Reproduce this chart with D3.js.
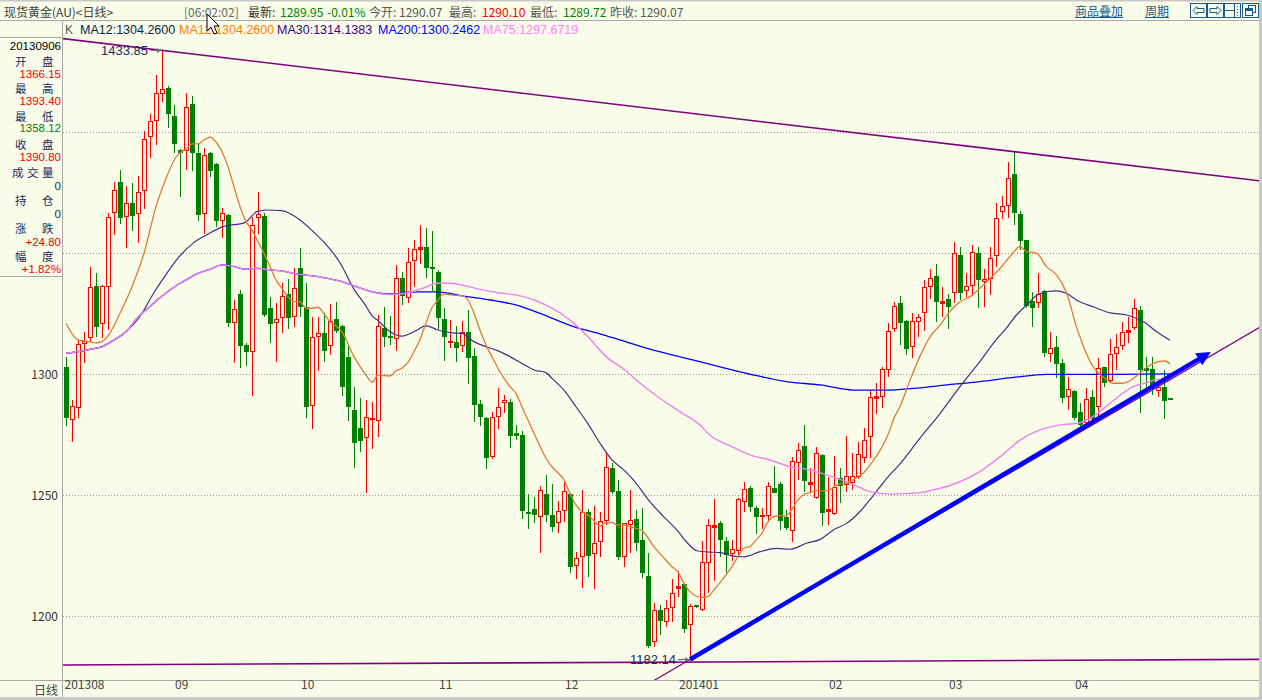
<!DOCTYPE html>
<html><head><meta charset="utf-8">
<script src="https://cdn.jsdelivr.net/npm/d3@7/dist/d3.min.js"></script>
<style>
html,body{margin:0;padding:0;background:#F9FCE8;}
svg{display:block;font-family:"Noto Sans CJK SC","Liberation Sans",sans-serif;}
</style></head>
<body><svg id="c" width="1262" height="700"></svg>
<script>
// ---------- DATA (daily candles, index 0 = first day shown, Aug 2013) ----------
const opens = [1302.9,1281.0,1286.0,1312.4,1314.9,1336.5,1320.7,1336.2,1366.5,1379.5,
1364.9,1370.7,1366.1,1375.9,1398.2,1404.5,1415.7,1418.2,1406.7,1392.7,
1392.3,1411.6,1391.3,1366.15,1391.3,1386.9,1363.2,1365.8,1321.3,1333.2,
1312.1,1309.1,1364.5,1365.4,1327.3,1321.3,1323.1,1333.2,1323.6,1343.8,
1327.7,1287.1,1315.6,1316.9,1311.7,1322.7,1320.0,1307.0,1285.3,1277.7,
1273.5,1281.4,1280.9,1319.3,1316.0,1314.4,1339.6,1331.4,1346.9,1351.9,
1352.5,1344.5,1342.1,1322.7,1313.5,1313.4,1311.8,1317.3,1307.6,1287.7,
1281.8,1265.7,1282.2,1288.0,1288.7,1275.6,1274.9,1243.0,1244.2,1240.9,
1250.5,1241.9,1238.4,1243.6,1250.5,1220.9,1224.3,1243.3,1225.7,1230.6,
1239.5,1261.1,1251.6,1224.7,1237.7,1240.2,1231.5,1216.6,1189.5,1202.8,
1197.8,1203.6,1211.5,1213.2,1196.6,1204.5,1202.8,1221.9,1237.0,1238.7,
1231.1,1225.6,1227.1,1247.4,1253.1,1244.9,1241.4,1241.6,1253.1,1254.7,
1241.2,1235.4,1263.5,1270.4,1254.7,1248.7,1266.6,1243.7,1242.1,1257.0,
1254.3,1255.2,1257.4,1265.3,1273.9,1290.1,1290.5,1301.8,1318.7,1329.3,
1322.0,1311.1,1321.7,1325.4,1335.9,1340.6,1329.3,1331.0,1333.7,1349.3,
1334.4,1336.6,1350.0,1338.0,1339.2,1348.9,1366.9,1369.6,1382.7,1366.2,
1355.5,1330.4,1329.3,1334.5,1308.2,1311.1,1304.5,1290.8,1293.1,1284.5,
1279.8,1290.5,1286.6,1302.9,1297.2,1308.2,1311.8,1317.6,1319.2,1326.6,
1302.8,1302.0,1293.2,1294.6,1290.07];
const highs = [1307.3,1289.4,1314.2,1317.6,1344.2,1341.7,1336.9,1366.5,1379.6,1384.4,
1377.8,1378.9,1382.0,1400.7,1407.6,1423.7,1433.85,1419.0,1411.3,1393.0,
1416.4,1415.0,1395.0,1393.4,1392.0,1387.5,1368.9,1366.1,1330.7,1334.8,
1313.0,1365.2,1375.2,1366.8,1331.8,1329.3,1337.6,1339.3,1343.8,1352.1,
1337.6,1323.6,1323.8,1325.2,1329.1,1330.0,1320.5,1312.1,1294.9,1290.1,
1289.4,1288.7,1324.5,1328.0,1324.1,1345.1,1342.4,1352.1,1355.7,1361.7,
1360.3,1359.3,1343.1,1327.3,1322.4,1320.0,1322.0,1326.6,1311.0,1289.4,
1282.5,1284.6,1294.5,1291.5,1289.8,1279.1,1276.6,1250.5,1249.4,1253.8,
1258.4,1254.7,1247.7,1255.3,1251.0,1226.7,1252.1,1244.3,1245.6,1243.3,
1267.8,1263.2,1256.4,1238.7,1252.2,1244.0,1244.6,1226.3,1205.3,1204.6,
1206.6,1215.3,1218.9,1213.5,1205.0,1204.8,1231.2,1240.1,1248.3,1239.5,
1232.9,1231.5,1248.7,1255.3,1254.0,1245.5,1244.6,1255.6,1262.1,1255.6,
1244.0,1265.7,1271.5,1279.0,1261.4,1269.8,1267.0,1257.7,1266.3,1261.1,
1274.5,1267.3,1271.9,1278.0,1293.5,1296.5,1303.1,1321.3,1329.7,1332.3,
1322.5,1325.2,1324.9,1339.0,1343.4,1345.4,1335.9,1333.1,1354.5,1352.4,
1341.7,1353.4,1352.7,1343.4,1352.4,1370.9,1373.8,1387.8,1392.0,1367.6,
1355.7,1334.1,1341.9,1334.8,1317.3,1316.0,1306.3,1298.8,1293.5,1288.0,
1294.2,1293.5,1306.6,1303.0,1314.4,1316.5,1321.5,1323.5,1331.0,1328.4,
1307.3,1307.0,1297.6,1301.8,1290.10];
const lows = [1278.6,1272.2,1282.1,1304.5,1313.5,1315.6,1315.2,1318.3,1357.6,1362.0,
1352.1,1359.4,1354.4,1368.2,1389.3,1394.8,1412.7,1401.9,1391.3,1373.1,
1384.4,1384.2,1363.4,1358.12,1381.7,1361.0,1356.2,1319.4,1304.5,1302.5,
1303.4,1291.0,1358.0,1323.8,1313.1,1305.2,1316.9,1318.6,1319.4,1323.8,
1282.1,1277.3,1301.5,1305.2,1308.0,1317.0,1291.0,1280.8,1261.2,1268.0,
1251.1,1269.0,1273.9,1311.4,1312.1,1309.8,1328.6,1329.6,1335.9,1345.5,
1339.6,1334.5,1318.6,1305.6,1310.7,1305.2,1309.1,1296.0,1280.4,1278.6,
1260.8,1265.0,1277.3,1283.9,1269.4,1272.9,1240.2,1236.1,1238.4,1226.3,
1239.1,1235.0,1234.3,1239.1,1217.7,1215.6,1211.6,1216.4,1211.1,1224.7,
1237.7,1250.4,1223.3,1220.2,1226.3,1227.1,1215.7,1186.7,1187.5,1192.2,
1195.7,1197.8,1208.0,1193.2,1182.14,1203.3,1202.1,1209.5,1214.7,1224.6,
1217.7,1223.0,1224.6,1243.3,1243.3,1233.9,1235.9,1239.1,1250.8,1235.6,
1235.7,1230.8,1256.3,1251.5,1250.8,1248.3,1237.4,1237.7,1241.8,1246.7,
1251.5,1252.2,1256.6,1263.5,1265.3,1283.6,1285.9,1299.0,1317.6,1312.1,
1308.0,1306.9,1315.5,1318.0,1331.0,1321.7,1323.5,1318.9,1329.6,1330.7,
1332.1,1332.3,1327.3,1327.7,1332.7,1344.5,1364.0,1364.4,1361.7,1351.4,
1327.3,1319.7,1327.3,1307.3,1305.0,1298.3,1288.3,1285.3,1281.0,1278.0,
1279.1,1280.7,1282.5,1294.9,1296.3,1301.8,1310.0,1312.8,1318.3,1284.2,
1293.5,1291.5,1290.8,1281.4,1289.72];
const closes = [1281.8,1287.1,1312.4,1313.8,1335.9,1319.7,1336.4,1364.9,1376.2,1364.7,
1370.7,1365.4,1375.2,1397.1,1404.7,1416.1,1417.8,1407.6,1395.0,1391.6,
1410.3,1391.6,1366.0,1390.8,1384.2,1363.4,1366.5,1321.3,1326.9,1311.8,
1309.4,1361.7,1366.3,1324.5,1320.8,1322.7,1332.5,1323.1,1335.5,1327.7,
1286.6,1315.3,1316.9,1309.8,1322.2,1318.0,1294.6,1286.4,1271.8,1272.6,
1282.2,1281.8,1320.0,1315.6,1315.3,1340.0,1332.5,1346.3,1351.6,1352.5,
1344.1,1344.1,1323.1,1315.3,1313.8,1311.0,1317.3,1306.9,1287.3,1282.5,
1265.6,1282.2,1286.6,1289.4,1274.5,1274.6,1243.6,1242.3,1241.9,1252.2,
1241.9,1237.1,1243.6,1251.6,1220.2,1224.2,1243.3,1225.0,1230.1,1239.5,
1261.6,1251.5,1224.7,1238.4,1239.8,1230.2,1218.0,1187.7,1202.5,1198.1,
1203.6,1209.8,1212.4,1194.9,1204.1,1203.8,1222.6,1237.7,1237.7,1231.5,
1225.3,1227.7,1248.3,1252.5,1245.3,1241.2,1241.9,1253.9,1251.1,1239.4,
1236.4,1264.2,1268.7,1256.1,1255.4,1267.3,1242.8,1244.2,1253.6,1254.0,
1258.0,1258.0,1266.9,1272.9,1290.5,1291.0,1302.1,1318.0,1328.4,1321.3,
1310.4,1322.1,1323.8,1335.9,1340.0,1330.0,1330.4,1327.7,1350.0,1333.7,
1336.5,1350.4,1339.0,1339.2,1347.9,1364.4,1369.7,1381.2,1366.5,1355.2,
1328.4,1327.3,1333.1,1308.7,1310.7,1304.2,1290.3,1293.8,1281.8,1279.0,
1289.8,1281.4,1302.5,1296.5,1308.2,1311.4,1317.3,1318.3,1327.3,1301.8,
1301.5,1293.8,1294.6,1289.0,1289.95];

// moving averages: [candle index, value]
const ma12 = [[0,1321.1],[2,1314.2],[3,1313.8],[5,1313.0],[6,1313.5],[7.3,1317],[9,1325.2],[11,1336.2],[13,1350],[15,1369.3],[17,1383],[18.4,1390],[20,1393.1],[21,1395.2],[22,1395.2],[23,1396.8],[24,1398],[25,1396],[26,1392],[27,1385.8],[28,1377.5],[29,1369.3],[30,1363.1],[31,1359.6],[32,1354.8],[33,1350],[34,1344.5],[35,1339],[36,1335.5],[37,1332.1],[38,1330],[39,1330],[40,1327.3],[41,1327.3],[42,1327.7],[43,1325],[44,1321.8],[45,1320],[46,1317.5],[48,1307.3],[50,1299.7],[51,1296.7],[52,1299.7],[54,1299.3],[55,1301.5],[56,1302.5],[57,1304.9],[58,1309.4],[59,1314.4],[60,1321.1],[61,1327.5],[62,1330.7],[63,1333.2],[64,1332.8],[66,1332.5],[67,1330.7],[68,1325.2],[69,1318.3],[70,1312.1],[71,1307.3],[72,1302.5],[73,1298.3],[74,1294.9],[75,1292.1],[76,1286.6],[77,1281.1],[78,1275.6],[79,1270.3],[80,1265.3],[81,1261.8],[82,1259.3],[83,1256.4],[84,1250.8],[85,1246],[86,1243.2],[87,1241.8],[88,1239.5],[89,1237.3],[90,1238.7],[91,1238.7],[92,1237.7],[93,1237.7],[94,1237],[96,1235.4],[98,1228.8],[99.7,1224],[101,1220.5],[102,1218.4],[103,1213.6],[104,1210.2],[106,1207.8],[107,1208.1],[108,1210.9],[109,1213.9],[110,1217.1],[111,1220.5],[112,1224.6],[113,1228.1],[114,1228.8],[115,1231.5],[116,1234.3],[117,1239.1],[118,1241.2],[119,1241.6],[120,1241.5],[121,1244.2],[122,1248.1],[123,1250.4],[124,1251.1],[125,1251.9],[126,1251.8],[127,1251.9],[128,1253.6],[129,1254.7],[130,1254.9],[131,1256],[132,1257.7],[133,1259.4],[134,1262.5],[135,1266],[136,1270],[137,1275],[138,1281.8],[139,1286.7],[140.7,1297.7],[142.3,1307.3],[144,1315.5],[145.7,1320.4],[147.3,1325.9],[149,1330],[150.7,1332.1],[152.3,1335.5],[154,1339.6],[155.7,1343.8],[157.3,1348.6],[159,1352.7],[160.1,1350.7],[161.8,1350],[163.4,1344.5],[165.1,1341],[166.8,1333.4],[168.4,1319.7],[169.6,1311.4],[171.2,1303.1],[172.9,1298.8],[174.6,1296.3],[176.2,1296.3],[177.9,1298.3],[179.6,1301.8],[181.2,1304.5],[183.2,1305.5],[184,1304.3]];
const ma30 = [[0,1308.7],[2,1309.4],[4,1310.3],[6,1311.4],[8,1314.2],[10,1317.6],[12.3,1323.8],[14.6,1333.5],[16.8,1341.7],[18.2,1346.6],[21.2,1354.2],[23.4,1357.6],[26.2,1361],[29.8,1362.7],[31.8,1367.2],[33.4,1367.9],[35.9,1367.6],[39,1363.8],[41.2,1359],[43.4,1353.5],[45.7,1346],[48,1335.1],[50,1328.2],[51,1324.1],[52,1322.2],[54,1317.6],[56,1315.8],[58,1317.6],[60,1320],[62,1318.3],[64,1317.2],[66,1316.9],[68,1313.5],[70,1311.4],[72,1309.7],[74,1307.3],[76,1304.5],[78,1301.8],[80,1300.7],[81,1298.3],[83,1293.5],[85,1286.6],[87,1279.5],[89,1271.5],[91,1264.6],[93,1260.4],[94.6,1256.3],[97.3,1247.4],[99.6,1241.2],[101.8,1235.7],[103.4,1230.8],[105.1,1227.1],[106.8,1226.6],[109,1226.3],[111.2,1224.9],[112.9,1224.6],[115.7,1226.7],[118.4,1228.1],[120.7,1227.7],[123.4,1230.2],[125.7,1231.8],[127.9,1235.7],[130.1,1238.4],[132.3,1243.2],[134.6,1250.1],[136.8,1257],[139,1263],[142.3,1273.5],[145.7,1283.9],[149,1294.9],[152.3,1305.2],[155,1314.2],[156.7,1319],[158.4,1324.5],[160.1,1328.6],[161.8,1332.7],[163.4,1334.1],[165.1,1334.5],[166.8,1333.4],[168.4,1330.7],[171.2,1327.9],[174,1325.4],[176.8,1324.5],[179.6,1321.7],[181.8,1317.6],[184,1314.1]];
const ma75 = [[0,1308.7],[2,1309.4],[4,1310.3],[6,1311.4],[8,1314.2],[10,1317.6],[12,1323.6],[14,1328],[16,1332.4],[18,1336],[20,1339],[22,1341.7],[24,1343.4],[26,1345.2],[28,1344.5],[30,1343.4],[32,1343.8],[34,1343.1],[36,1342.7],[38,1341.7],[40,1341],[42,1340.4],[44,1339.4],[46,1338.3],[48,1336.5],[51,1334.1],[54,1333],[57,1333.7],[59,1335.1],[62,1337.6],[64,1337.6],[66,1336.9],[69,1335.1],[72,1333.7],[75,1332.8],[78,1330.7],[81,1327.3],[84,1322.4],[87,1315.5],[90,1307.3],[93,1302.1],[95.7,1296.3],[99,1290.1],[102.3,1284.6],[105.7,1279],[107.3,1274.9],[110.7,1270.4],[114,1266.7],[117.3,1264.6],[120.7,1261.8],[124,1260.5],[127.3,1258],[130.7,1255],[134,1251.5],[137.3,1250.5],[140.7,1250.8],[142.3,1251.1],[145.7,1252.9],[149,1255.6],[152.3,1259.8],[155.7,1266],[159,1272.8],[162.3,1277],[165.7,1279.1],[169,1280],[170.7,1281.8],[172.3,1284.6],[174,1288],[175.7,1291.4],[177.9,1294.9],[180.1,1296.5],[181.8,1297.9],[184,1297.7]];
const ma200 = [[0,1308.7],[2,1309.4],[4,1310.3],[6,1311.4],[8,1314.2],[10,1317.6],[12,1323.6],[14,1328],[16,1332.4],[18,1336],[20,1339],[22,1341.7],[24,1343.4],[26,1345.2],[28,1344.5],[30,1343.4],[32,1343.8],[34,1343.1],[36,1342.7],[38,1341.7],[40,1341],[42,1340.4],[44,1339.4],[46,1338.3],[48,1336.5],[51,1334.1],[54,1333.2],[57,1333.9],[59,1334.1],[61.7,1334.1],[66.8,1332.1],[70.7,1330.7],[75.1,1328.6],[79,1325.2],[84.6,1319.7],[89,1316.7],[92.3,1314.2],[97.9,1310],[103.4,1306.6],[109,1303.1],[114.6,1299.7],[120.1,1297],[125.7,1295.6],[131.2,1293.5],[136.8,1293.5],[141.2,1294.2],[146.8,1295.6],[152.3,1297],[157.9,1298.7],[163.4,1300],[169,1300],[174.6,1300],[184,1300.2]];

// drawn lines (two anchor points each: [candle index, price])
const resistLine = [[16,1433.85],[158,1392.0]];
const floorLine = [[-0.5,1179.9],[199,1182.2]];
const riseLine = [[104,1182.14],[169,1276.1]];
const blueArrow = [[104,1182.14],[190.8,1309.2]];
const peakMark = [16,1433.85,"1433.85"];
const lowMark = [104,1182.14,"1182.14"];

const monthLabels = ["201308","09","10","11","12","201401","02","03","04"];
const monthIdx = [0,19,40,63,84,103,128,148,169];
const yLabelTicks = [1200,1250,1300];
const gridTicks = [1200,1250,1300,1350,1400];

const legend = [["MA12:1304.2600","#0A1E46",80],["MA12:1304.2600","#FF8000",179],["MA30:1314.1383","#400080",277],["MA200:1300.2462","#0000FF",378],["MA75:1297.6719","#FF80FF",483]];
const infoLabels = [["20130906",46,"#000"],["1366.15",73.5,"#F00000"],["1393.40",100.5,"#F00000"],["1358.12",127.5,"#008000"],["1390.80",156.5,"#F00000"],["0",185.5,"#1A2B5E"],["0",213.5,"#1A2B5E"],["+24.80",241.5,"#F00000"],["+1.82%",268.5,"#F00000"]];
const infoNames = [[["开",15],["盘",42]],[["最",15],["高",42]],[["最",15],["低",42]],[["收",15],["盘",42]],[["成",12],["交",27],["量",42]],[["持",15],["仓",42]],[["涨",15],["跌",42]],[["幅",15],["度",42]]];
const infoNameY = [60.5,87.5,115.5,143.5,171.5,199.5,227.5,255.5];

// ---------- DRAW ----------
const BG = "#F9FCE8";
const svg = d3.select("#c");
svg.append("rect").attr("width",1262).attr("height",700).attr("fill",BG);

const x = d3.scaleLinear().domain([0,184]).range([66,1170]);
const y = d3.scaleLinear().domain([1200,1400]).range([616.3,132.3]);
const P = {l:63,r:1259,t:21,b:680};

svg.append("defs").append("clipPath").attr("id","plot")
  .append("rect").attr("x",P.l).attr("y",P.t).attr("width",P.r-P.l).attr("height",P.b-P.t);

// grid
svg.append("g").selectAll("line").data(gridTicks).join("line")
  .attr("x1",P.l).attr("x2",P.r)
  .attr("y1",d=>Math.round(y(d))+0.5).attr("y2",d=>Math.round(y(d))+0.5)
  .attr("stroke","#9a9a9a").attr("stroke-dasharray","1,2").attr("stroke-width",1);

const plotG = svg.append("g").attr("clip-path","url(#plot)");

// candles
const idx = d3.range(opens.length);
const cg = plotG.append("g").attr("shape-rendering","crispEdges");
idx.forEach(i=>{
  const o=opens[i],c=closes[i],h=highs[i],l=lows[i];
  const cx = Math.round(x(i));
  const up = c>=o;
  const col = up ? "#FF0000" : "#008000";
  const yh=Math.round(y(h)), yl=Math.round(y(l));
  const yt=Math.round(y(Math.max(o,c))), yb=Math.round(y(Math.min(o,c)));
  cg.append("rect").attr("x",cx).attr("y",yh).attr("width",1).attr("height",Math.max(1,yl-yh)).attr("fill",col);
  if(!up){
    cg.append("rect").attr("x",cx-2).attr("y",yt).attr("width",5).attr("height",Math.max(2,yb-yt)).attr("fill",col);
  } else if (yb-yt<3){
    cg.append("rect").attr("x",cx-2).attr("y",yt).attr("width",5).attr("height",Math.max(2,yb-yt+1)).attr("fill",col);
  } else {
    cg.append("rect").attr("x",cx-1.5).attr("y",yt+0.5).attr("width",4).attr("height",yb-yt-1)
      .attr("fill",BG).attr("stroke",col).attr("stroke-width",1);
  }
});

// moving averages
const line = d3.line().x(d=>x(d[0])).y(d=>y(d[1])).curve(d3.curveMonotoneX);
[[ma200,"#0000FF",1.3],[ma30,"#4A2A90",1.2],[ma75,"#EE80F0",1.4],[ma12,"#E07A35",1.3]].forEach(([data,col,w])=>{
  plotG.append("path").attr("d",line(data)).attr("fill","none").attr("stroke",col).attr("stroke-width",w);
});

// trend lines
function extendLine(pts,k0,k1){
  const [a,b]=pts; const s=(b[1]-a[1])/(b[0]-a[0]);
  return [[k0,a[1]+s*(k0-a[0])],[k1,a[1]+s*(k1-a[0])]];
}
const straight = d3.line().x(d=>x(d[0])).y(d=>y(d[1]));
plotG.append("path").attr("d",straight(extendLine(resistLine,-0.6,200))).attr("stroke","#800080").attr("stroke-width",1.6).attr("fill","none");
plotG.append("path").attr("d",straight(floorLine)).attr("stroke","#800080").attr("stroke-width",1.6).attr("fill","none");
plotG.append("path").attr("d",straight(extendLine(riseLine,95,200))).attr("stroke","#800080").attr("stroke-width",1.2).attr("fill","none");

// thick blue arrow
{
  const p0=[x(blueArrow[0][0]),y(blueArrow[0][1])], p1=[x(blueArrow[1][0]),y(blueArrow[1][1])];
  const dx=p1[0]-p0[0], dy=p1[1]-p0[1], L=Math.hypot(dx,dy), ux=dx/L, uy=dy/L, nx=-uy, ny=ux;
  const back=[p1[0]-ux*14,p1[1]-uy*14];
  plotG.append("line").attr("x1",p0[0]).attr("y1",p0[1]).attr("x2",back[0]+ux*2).attr("y2",back[1]+uy*2)
    .attr("stroke","#0000FF").attr("stroke-width",4.5);
  plotG.append("path").attr("d",`M${p1[0]},${p1[1]}L${back[0]+nx*7},${back[1]+ny*7}L${back[0]-nx*7},${back[1]-ny*7}Z`).attr("fill","#0000FF");
}

// extreme markers
function mark(m){
  const px=x(m[0]), py=y(m[1]);
  svg.append("line").attr("x1",px-12).attr("x2",px-2).attr("y1",py).attr("y2",py).attr("stroke","#707070").attr("stroke-width",1.2);
  svg.append("path").attr("d",`M${px-1},${py}L${px-5},${py-2.5}L${px-5},${py+2.5}Z`).attr("fill","#707070");
  svg.append("text").attr("x",px-14).attr("y",py).attr("text-anchor","end").attr("dominant-baseline","central")
    .attr("font-size",13).attr("font-family","Liberation Sans, sans-serif").attr("fill","#1A2B5E").text(m[2]);
}
mark(peakMark); mark(lowMark);

// frame lines
const fr = svg.append("g").attr("stroke","#A8A8A8").attr("stroke-width",1).attr("shape-rendering","crispEdges");
fr.append("line").attr("x1",0).attr("x2",1262).attr("y1",20.5).attr("y2",20.5);
fr.append("line").attr("x1",0).attr("x2",1262).attr("y1",680.5).attr("y2",680.5);
fr.append("line").attr("x1",62.5).attr("x2",62.5).attr("y1",21).attr("y2",697);
fr.append("line").attr("x1",0).attr("x2",62).attr("y1",37.5).attr("y2",37.5);
fr.append("line").attr("x1",0).attr("x2",62).attr("y1",276.5).attr("y2",276.5);
svg.append("rect").attr("x",0).attr("y",0).attr("width",1262).attr("height",1.5).attr("fill","#C8C8C8");
svg.append("rect").attr("x",1259).attr("y",0).attr("width",3).attr("height",700).attr("fill","#C8C8C8");
svg.append("rect").attr("x",0).attr("y",697).attr("width",1262).attr("height",3).attr("fill","#C8C8C8");

// y axis labels
const yAx = svg.append("g").attr("transform","translate(60,0)")
  .call(d3.axisLeft(y).tickValues(yLabelTicks).tickSize(0).tickPadding(2).tickFormat(d3.format("d")));
yAx.select(".domain").remove();
yAx.selectAll("text").attr("font-size",12).attr("fill","#333").attr("font-family","Noto Sans CJK SC, sans-serif");

// x axis labels
const xAx = svg.append("g").attr("transform","translate(0,681)")
  .call(d3.axisBottom(x).tickValues(monthIdx).tickSize(0).tickPadding(2).tickFormat((d,i)=>monthLabels[i]));
xAx.select(".domain").remove();
xAx.selectAll("text").attr("font-size",12).attr("fill","#444").attr("text-anchor","start")
  .attr("font-family","Noto Sans CJK SC, sans-serif")
  .attr("x",d=>Math.max(64,x(d)-5.5)-x(d)).attr("dy","0.5em");
svg.append("text").attr("x",58).attr("y",689).attr("text-anchor","end").attr("dominant-baseline","central")
  .attr("font-size",12).attr("fill","#444").text("日线");

// info panel
const ip = svg.append("g");
infoLabels.forEach(([t,yy,c])=>ip.append("text").attr("x",61).attr("y",yy).attr("text-anchor","end")
  .attr("dominant-baseline","central").attr("font-size",11.5).attr("font-family","Liberation Sans, sans-serif")
  .attr("fill",c).text(t));
infoNames.forEach((chars,j)=>chars.forEach(([t,xx])=>ip.append("text").attr("x",xx).attr("y",infoNameY[j])
  .attr("dominant-baseline","central").attr("font-size",11.5).attr("fill","#1A2B5E").text(t)));

// legend row
svg.append("text").attr("x",65).attr("y",30).attr("dominant-baseline","central").attr("font-size",12)
  .attr("font-family","Liberation Sans, sans-serif").attr("fill","#555").text("K");
legend.forEach(([t,c,xx])=>svg.append("text").attr("x",xx).attr("y",30).attr("dominant-baseline","central")
  .attr("font-size",12.5).attr("font-family","Liberation Sans, sans-serif").attr("fill",c).text(t));

// header
const hdr = [["现货黄金(AU)<日线>",4,"#404040"],["[06:02:02]",184,"#666"],["最新:",248,"#333"],["1289.95",280,"#008000"],
  ["-0.01%",327,"#008000"],["今开:",369,"#555"],["1290.07",399,"#555"],["最高:",449,"#555"],["1290.10",482,"#F00000"],
  ["最低:",530,"#555"],["1289.72",563,"#008000"],["昨收:",610,"#555"],["1290.07",640,"#555"]];
hdr.forEach(([t,xx,c])=>svg.append("text").attr("x",xx).attr("y",11).attr("dominant-baseline","central")
  .attr("font-size",12).attr("fill",c).text(t));
[["商品叠加",1075,48],["周期",1145,24]].forEach(([t,xx,w])=>{
  svg.append("text").attr("x",xx).attr("y",10).attr("dominant-baseline","central").attr("font-size",12).attr("fill","#1A5A8A").text(t);
  svg.append("line").attr("x1",xx).attr("x2",xx+w).attr("y1",17.5).attr("y2",17.5).attr("stroke","#1A5A8A");
});
const ic = svg.append("g").attr("stroke","#1A5A8A").attr("fill","none").attr("stroke-width",1).attr("shape-rendering","crispEdges");
[1190,1207,1224,1242].forEach(xx=>ic.append("rect").attr("x",xx+0.5).attr("y",3.5).attr("width",16).attr("height",14));
ic.append("path").attr("d","M1193,10.5L1197,6.5L1197,8.5L1204,8.5L1204,12.5L1197,12.5L1197,14.5Z").attr("shape-rendering","auto");
ic.append("path").attr("d","M1221,10.5L1217,6.5L1217,8.5L1210,8.5L1210,12.5L1217,12.5L1217,14.5Z").attr("shape-rendering","auto");
ic.append("path").attr("d","M1234.5,4L1234.5,17M1225,10.5L1234,10.5M1237.5,6L1237.5,7M1237.5,9L1237.5,10M1237.5,12L1237.5,13M1237.5,15L1237.5,16");
ic.append("path").attr("d","M1245.5,8.5h7v7h-7zM1248.5,8.5v-3h7v7h-3");
ic.append("path").attr("d","M1245.5,9.5h7").attr("stroke-width",2);

// mouse cursor
svg.append("path").attr("d","M207,14L207,31L211,27L214,34L217,33L214,26L219,26Z")
  .attr("fill","#fff").attr("stroke","#000").attr("stroke-width",1);
</script>
</body></html>
